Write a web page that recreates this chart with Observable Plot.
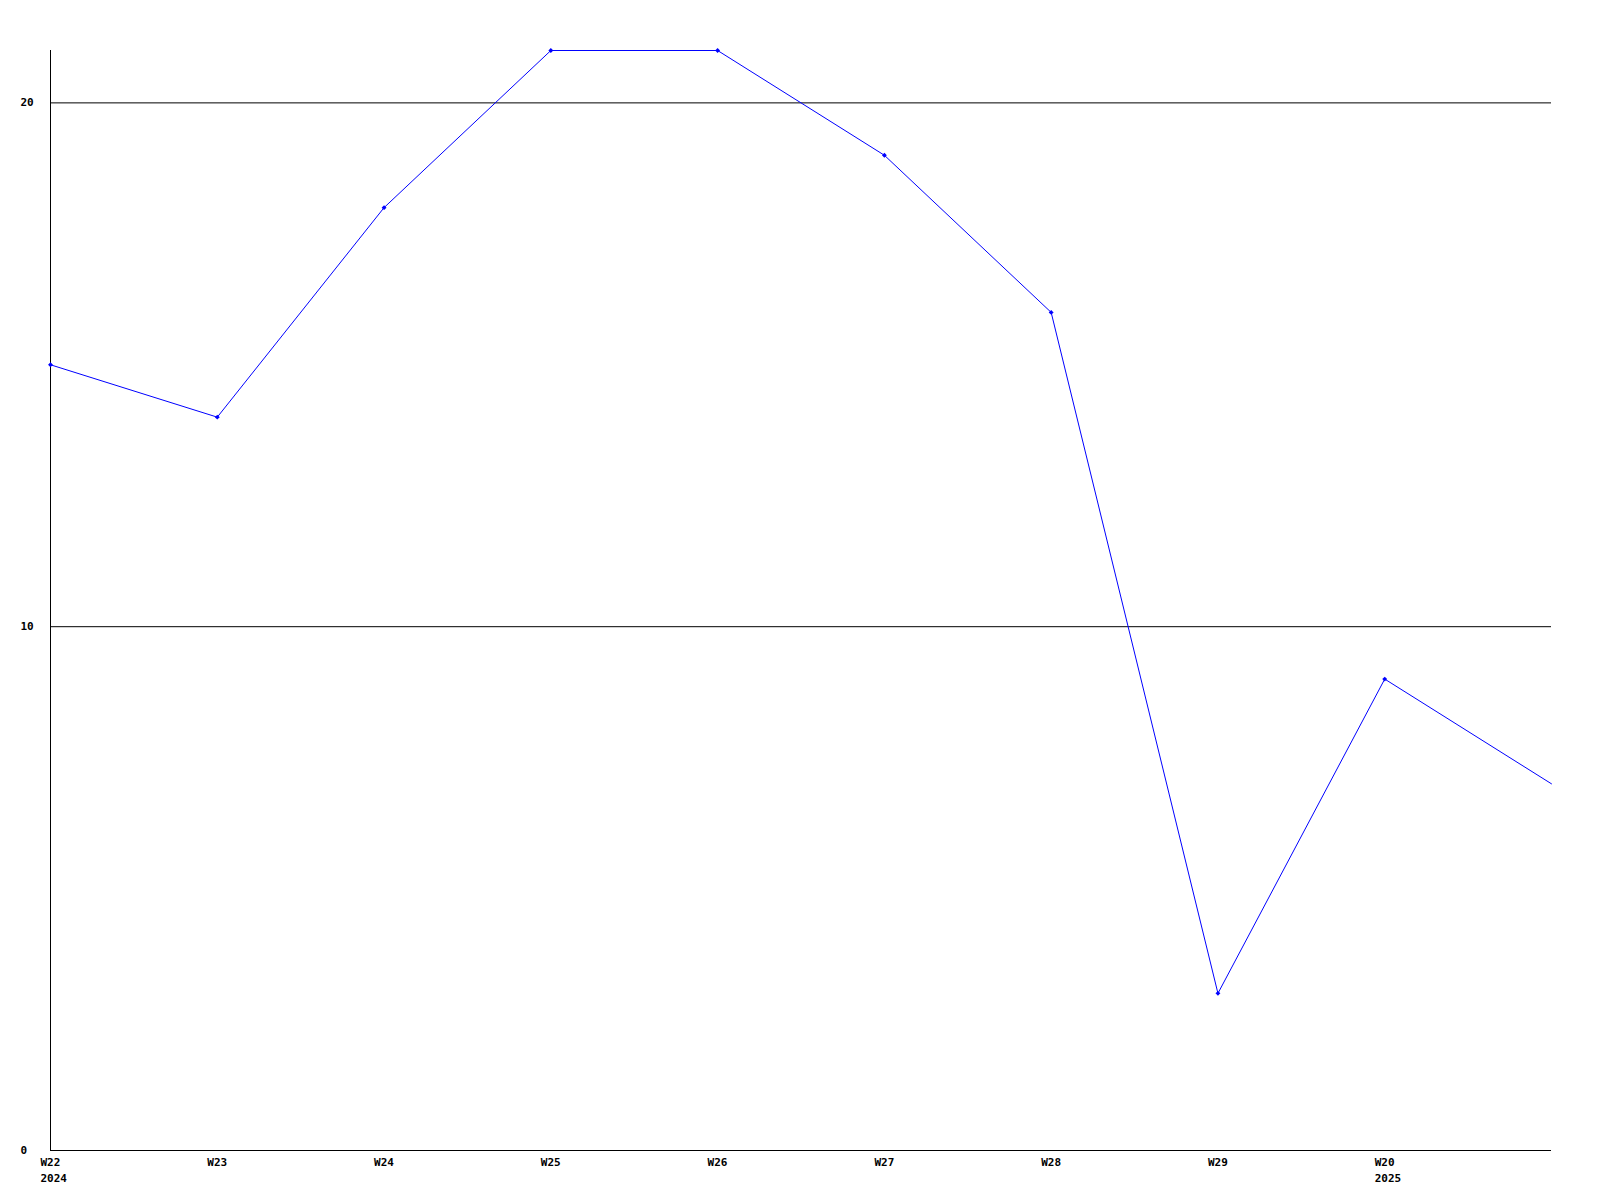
<!DOCTYPE html>
<html>
<head>
<meta charset="utf-8">
<script src="https://cdn.jsdelivr.net/npm/d3@7"></script>
<script src="https://cdn.jsdelivr.net/npm/@observablehq/plot@0.6"></script>
<style>
  html, body { margin: 0; padding: 0; background: #fff; }
  #chart svg { display: block; }
</style>
</head>
<body>
<div id="chart"></div>
<script>
const weeks = ["W22", "W23", "W24", "W25", "W26", "W27", "W28", "W29", "W20", ""];
const years = ["2024", "", "", "", "", "", "", "", "2025", ""];
const values = [15, 14, 18, 21, 21, 19, 16, 3, 9, 7];
const yTicks = [0, 10, 20];
const gridValues = [10, 20];

const data = values.map((v, i) => ({i, v}));
const tickLabels = weeks.map((w, i) => years[i] ? w + "\n" + years[i] : w);
const labelled = weeks.map((w, i) => i).filter(i => weeks[i] !== "");

const chart = Plot.plot({
  width: 1600,
  height: 1200,
  marginLeft: 50,
  marginRight: 49,
  marginTop: 50,
  marginBottom: 50,
  style: {background: "#fff", fontFamily: "'DejaVu Sans Mono', monospace", fontSize: "11px", fontWeight: "bold", color: "#000"},
  x: {domain: [0, 9]},
  y: {domain: [0, 21]},
  marks: [
    Plot.ruleY(gridValues, {stroke: "#000", strokeWidth: 1}),
    Plot.ruleY([0], {stroke: "#000", strokeWidth: 1}),
    Plot.ruleX([0], {stroke: "#000", strokeWidth: 1}),
    Plot.axisY({ticks: yTicks, tickSize: 0, tickPadding: 0, textAnchor: "start", dx: -30, label: null, fill: "#000"}),
    Plot.axisX({ticks: labelled, tickSize: 0, tickPadding: 5, textAnchor: "start", dx: -10, lineHeight: 1.4, label: null, fill: "#000", tickFormat: i => tickLabels[i]}),
    Plot.line(data, {x: "i", y: "v", stroke: "#0000ff", strokeWidth: 1}),
    Plot.dot(data.filter(d => d.i < 9), {x: "i", y: "v", fill: "#0000ff", r: 2.2, symbol: "diamond2", stroke: "none"})
  ]
});
document.getElementById("chart").appendChild(chart);
</script>
</body>
</html>
